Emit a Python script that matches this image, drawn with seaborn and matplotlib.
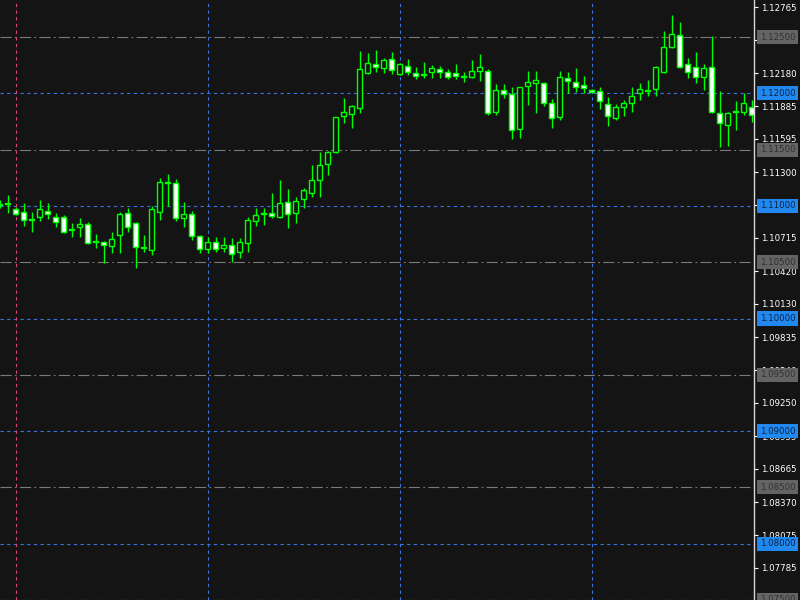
import matplotlib
matplotlib.use("Agg")
import matplotlib.pyplot as plt
import seaborn as sns
import numpy as np
import pandas as pd

# ---- data (EURUSD-like hourly candles) ----
opens = [1.11017, 1.11026, 1.10972, 1.10946, 1.10884, 1.10901, 1.10955, 1.10901, 1.10901, 1.10795,
         1.10812, 1.10839, 1.10688, 1.10679, 1.10644, 1.10741, 1.10937, 1.10848, 1.10635, 1.10608,
         1.10946, 1.11212, 1.11203, 1.10892, 1.10928, 1.10732, 1.10617, 1.10679, 1.10626, 1.10652,
         1.10590, 1.10670, 1.10866, 1.10937, 1.10937, 1.10901, 1.11035, 1.10937, 1.11061, 1.11115,
         1.11230, 1.11372, 1.11479, 1.11798, 1.11816, 1.11869, 1.12180, 1.12260, 1.12225, 1.12305,
         1.12171, 1.12242, 1.12180, 1.12171, 1.12189, 1.12216, 1.12189, 1.12180, 1.12154, 1.12145,
         1.12198, 1.12198, 1.11834, 1.12029, 1.11994, 1.11683, 1.12065, 1.12091, 1.12091, 1.11914,
         1.11789, 1.12136, 1.12100, 1.12074, 1.12029, 1.12020, 1.11905, 1.11780, 1.11878, 1.11914,
         1.12003, 1.12029, 1.12038, 1.12189, 1.12411, 1.12518, 1.12260, 1.12234, 1.12145, 1.12234,
         1.11825, 1.11718, 1.11843, 1.11834, 1.11878]
highs = [1.11052, 1.11097, 1.10990, 1.11026, 1.10946, 1.11052, 1.11026, 1.10937, 1.10919, 1.10848,
         1.10892, 1.10857, 1.10750, 1.10688, 1.10768, 1.10946, 1.10981, 1.10857, 1.10741, 1.10999,
         1.11248, 1.11283, 1.11239, 1.11035, 1.10955, 1.10741, 1.10724, 1.10724, 1.10724, 1.10715,
         1.10715, 1.10901, 1.10981, 1.10981, 1.11115, 1.11230, 1.11150, 1.11079, 1.11159, 1.11363,
         1.11479, 1.11490, 1.11789, 1.11958, 1.11896, 1.12376, 1.12358, 1.12385, 1.12313, 1.12367,
         1.12269, 1.12305, 1.12234, 1.12278, 1.12251, 1.12242, 1.12216, 1.12260, 1.12189, 1.12296,
         1.12349, 1.12216, 1.12082, 1.12082, 1.12056, 1.12056, 1.12198, 1.12198, 1.12100, 1.11949,
         1.12198, 1.12189, 1.12225, 1.12154, 1.12038, 1.12056, 1.11967, 1.11905, 1.11940, 1.12056,
         1.12091, 1.12118, 1.12242, 1.12553, 1.12695, 1.12633, 1.12313, 1.12367, 1.12260, 1.12509,
         1.12020, 1.11834, 1.11932, 1.12003, 1.11940]
lows = [1.10981, 1.10937, 1.10919, 1.10821, 1.10768, 1.10866, 1.10884, 1.10812, 1.10759, 1.10724,
        1.10724, 1.10661, 1.10626, 1.10493, 1.10581, 1.10581, 1.10768, 1.10448, 1.10590, 1.10564,
        1.10875, 1.10999, 1.10866, 1.10812, 1.10697, 1.10581, 1.10581, 1.10590, 1.10590, 1.10501,
        1.10537, 1.10590, 1.10821, 1.10830, 1.10892, 1.10892, 1.10804, 1.10848, 1.10981, 1.11079,
        1.11079, 1.11274, 1.11470, 1.11736, 1.11692, 1.11825, 1.12171, 1.12189, 1.12180, 1.12171,
        1.12162, 1.12162, 1.12127, 1.12136, 1.12136, 1.12136, 1.12127, 1.12127, 1.12100, 1.12136,
        1.12109, 1.11807, 1.11807, 1.11958, 1.11594, 1.11603, 1.11896, 1.11825, 1.11887, 1.11692,
        1.11763, 1.12003, 1.12011, 1.12003, 1.12003, 1.11860, 1.11709, 1.11763, 1.11798, 1.11834,
        1.11940, 1.11976, 1.11976, 1.12180, 1.12402, 1.12225, 1.12136, 1.12091, 1.12029, 1.11825,
        1.11523, 1.11532, 1.11674, 1.11807, 1.11745]
closes = [1.11008, 1.11017, 1.10928, 1.10875, 1.10875, 1.10972, 1.10928, 1.10857, 1.10768, 1.10786,
          1.10839, 1.10670, 1.10679, 1.10652, 1.10706, 1.10928, 1.10812, 1.10635, 1.10626, 1.10972,
          1.11212, 1.11203, 1.10892, 1.10928, 1.10732, 1.10617, 1.10679, 1.10617, 1.10652, 1.10572,
          1.10679, 1.10875, 1.10919, 1.10928, 1.10910, 1.11026, 1.10928, 1.11044, 1.11141, 1.11230,
          1.11363, 1.11479, 1.11789, 1.11834, 1.11887, 1.12216, 1.12269, 1.12234, 1.12296, 1.12207,
          1.12260, 1.12189, 1.12154, 1.12162, 1.12225, 1.12189, 1.12145, 1.12154, 1.12145, 1.12198,
          1.12234, 1.11825, 1.12029, 1.11994, 1.11674, 1.12056, 1.12100, 1.12118, 1.11914, 1.11780,
          1.12145, 1.12109, 1.12056, 1.12047, 1.12011, 1.11932, 1.11798, 1.11878, 1.11914, 1.11976,
          1.12038, 1.12020, 1.12234, 1.12411, 1.12527, 1.12234, 1.12189, 1.12145, 1.12225, 1.11834,
          1.11736, 1.11825, 1.11834, 1.11914, 1.11807]

tick_values = [1.07785, 1.08075, 1.08370, 1.08665, 1.08955, 1.09250, 1.09540, 1.09835, 1.10130,
               1.10420, 1.10715, 1.11010, 1.11300, 1.11595, 1.11885, 1.12180, 1.12475, 1.12765]
blue_levels = [1.12, 1.11, 1.10, 1.09, 1.08]
grey_levels = [1.125, 1.115, 1.105, 1.095, 1.085, 1.075]
day_separators = [26, 50, 74]
period_marker = [2]

df = pd.DataFrame({"open": opens, "high": highs, "low": lows, "close": closes})
df["idx"] = np.arange(len(df))
df["bull"] = df["close"] >= df["open"]

BG = "#141414"
GREEN = "#00ff00"
sns.set_theme(style="dark", rc={"axes.facecolor": BG, "figure.facecolor": BG,
                                "axes.grid": False})
plt.rcParams["font.family"] = ["DejaVu Sans"]

fig = plt.figure(figsize=(8, 6), dpi=100)
ax = fig.add_axes([0, 0, 754 / 800, 1])
ax.set_facecolor(BG)

# grid lines
for lv in blue_levels:
    ax.axhline(lv, color="#3a72e0", lw=0.8, ls=(0, (3, 3)), zorder=1)
for lv in grey_levels:
    ax.axhline(lv, color="#7a7a7a", lw=0.8, ls=(0, (10, 3, 1.5, 3)), zorder=1)
for xv in day_separators:
    ax.axvline(xv, color="#3a72e0", lw=0.8, ls=(0, (3, 3)), zorder=1)
for xv in period_marker:
    ax.axvline(xv, color="#d8467a", lw=0.8, ls=(0, (3, 3)), zorder=1)

# wicks
ax.vlines(df["idx"], df["low"], df["high"], colors=GREEN, lw=1.0, zorder=2)
# bodies
bottoms = np.minimum(df["open"], df["close"])
heights = np.abs(df["close"] - df["open"])
heights = np.maximum(heights, 0.00002)
faces = np.where(df["bull"], BG, "white")
ax.bar(df["idx"], heights, bottom=bottoms, width=0.6, color=faces,
       edgecolor=GREEN, linewidth=1.0, zorder=3)

ax.set_xlim(0.0625, 94.3125)
ax.set_ylim(1.075, 1.128286)
ax.set_xticks([])
ax.yaxis.tick_right()
ax.set_yticks(tick_values)
ax.set_yticklabels([f"{v:.5f}" for v in tick_values])
ax.tick_params(axis="y", colors="white", labelcolor="white", length=3, width=0.8,
               pad=2, labelsize=6.2, right=True, left=False)
for s in ["left", "top", "bottom"]:
    ax.spines[s].set_visible(False)
ax.spines["right"].set_color("#d8d8d8")
ax.spines["right"].set_linewidth(1.0)

# price level label boxes
for lv in blue_levels:
    ax.annotate(f"{lv:.5f}", xy=(1, lv), xycoords=("axes fraction", "data"),
                xytext=(4.0, 0), textcoords="offset points", ha="left", va="center",
                fontsize=6.2, color="#0c2244", annotation_clip=False, zorder=6,
                bbox=dict(boxstyle="square,pad=0.3", fc="#2088ee", ec="none"))
for lv in grey_levels:
    ax.annotate(f"{lv:.5f}", xy=(1, lv), xycoords=("axes fraction", "data"),
                xytext=(4.0, 0), textcoords="offset points", ha="left", va="center",
                fontsize=6.2, color="#303030", annotation_clip=False, zorder=6,
                bbox=dict(boxstyle="square,pad=0.3", fc="#646464", ec="none"))

fig.savefig("out.png", dpi=100, facecolor=BG)
